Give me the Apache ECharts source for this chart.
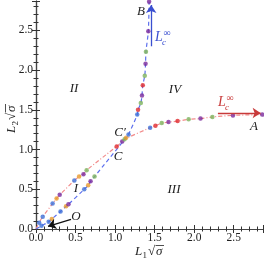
<!DOCTYPE html>
<html><head><meta charset="utf-8">
<script src="https://cdn.jsdelivr.net/npm/echarts@6/dist/echarts.min.js"></script>
<style>html,body{margin:0;padding:0;background:#fff}#c{width:264px;height:263px}</style>
</head><body><div id="c"></div>
<script>
// ---- data ----
const redX = [0.04,0.085,0.21,0.26,0.30,0.485,0.545,0.60,0.64,1.02,1.09,1.12,1.443,1.51,1.59,1.675,1.79,1.93,2.08,2.23,2.49,2.86];
const redY = [0.08,0.155,0.32,0.385,0.43,0.61,0.66,0.69,0.74,1.04,1.10,1.13,1.275,1.30,1.333,1.346,1.358,1.38,1.39,1.41,1.43,1.44];
const redGroup = [4,4,4,3,1,4,3,1,2,0,1,2,4,0,2,1,0,2,1,2,1,1];
const blueX = [0.07,0.16,0.20,0.31,0.38,0.41,0.61,0.66,0.69,0.74,1.14,1.17,1.28,1.29,1.325,1.34,1.35,1.375,1.385,1.39,1.42,1.43];
const blueY = [0.04,0.09,0.125,0.22,0.285,0.31,0.50,0.55,0.60,0.66,1.15,1.19,1.44,1.50,1.585,1.68,1.81,1.93,2.08,2.23,2.49,2.86];
const blueGroup = [4,4,3,4,3,1,4,3,1,2,3,4,4,0,2,1,0,2,1,2,1,1];
const origin = [0, 0];
const redArrow = [[2.30,1.46],[2.84,1.46]];
const blueArrow = [[1.456,2.30],[1.456,2.82]];
const oArrow = [[0.443,0.122],[0.152,0.034]];
const axisMax = 2.87;
const tickStep = 0.5;

// ---- styles ----
const groupColors = ['#e02a2e','#7a2b9c','#7db35c','#e99a2c','#3d6fd8'];
const SERIF = '"Liberation Serif", "DejaVu Serif", serif';

const chart = echarts.init(document.getElementById('c'), null, {renderer:'canvas'});

function linePts(xs, ys){ return [origin].concat(xs.map((x,i)=>[x, ys[i]])); }
function dotPts(xs, ys, gs){
  return xs.map((x,i)=>({value:[x, ys[i]], itemStyle:{color:groupColors[gs[i]]}}));
}
function baseAxis(pos, showLabel){
  return {
    type:'value', min:0, max:axisMax, interval:tickStep, position:pos,
    axisLine:{show:true, lineStyle:{color:'#444', width:1.2}},
    axisTick:{show:true, inside:true, length:4, lineStyle:{color:'#333', width:1}},
    minorTick:{show:true, splitNumber:5, length:2.5, lineStyle:{color:'#333', width:1}},
    splitLine:{show:false}, minorSplitLine:{show:false},
    axisLabel:{show:showLabel, showMaxLabel:false, color:'#222', fontFamily:SERIF, fontSize:11.5,
      formatter:v=>v.toFixed(1)}
  };
}
const xa1 = baseAxis('bottom', true); xa1.axisLabel.margin = 3;
const xa2 = baseAxis('top', false);
const ya1 = baseAxis('left', true); ya1.axisLabel.margin = 3;
const ya2 = baseAxis('right', false);

function txt(x, y, s, size, color, italic){
  return {type:'text', x:x, y:y, style:{text:s, fill:color||'#222',
    font:(italic===false?'':'italic ')+size+'px '+SERIF, align:'center', verticalAlign:'middle'}};
}
function lc(x, y, color){
  return {type:'group', x:x, y:y, children:[
    {type:'text', x:0, y:0, style:{text:'L', fill:color, font:'italic 14px '+SERIF, verticalAlign:'bottom'}},
    {type:'text', x:7, y:3, style:{text:'c', fill:color, font:'italic 9px '+SERIF, verticalAlign:'bottom'}},
    {type:'text', x:8.5, y:-6, style:{text:'∞', fill:color, font:'10px '+SERIF, verticalAlign:'bottom'}}
  ]};
}
function axName(x, y, sub, rot){
  return {type:'group', x:x, y:y, rotation:rot, children:[
    {type:'text', x:0, y:0, style:{text:'L', fill:'#222', font:'italic 13px '+SERIF, verticalAlign:'bottom'}},
    {type:'text', x:7.5, y:2.5, style:{text:sub, fill:'#222', font:'9px '+SERIF, verticalAlign:'bottom'}},
    {type:'text', x:13, y:0, style:{text:'√', fill:'#222', font:'13px '+SERIF, verticalAlign:'bottom'}},
    {type:'text', x:21, y:0, style:{text:'σ', fill:'#222', font:'italic 13px '+SERIF, verticalAlign:'bottom'}},
    {type:'line', shape:{x1:20.5, y1:-12.5, x2:29, y2:-12.5}, style:{stroke:'#222', lineWidth:0.8}}
  ]};
}
function arrow(pts, color){
  return [{coord:pts[0], lineStyle:{color:color}}, {coord:pts[1], lineStyle:{color:color}}];
}

chart.setOption({
  animation:false,
  grid:{left:36, top:1, width:227, height:228, containLabel:false},
  xAxis:[xa1, xa2],
  yAxis:[ya1, ya2],
  series:[
    {type:'line', data:linePts(redX, redY), showSymbol:false, smooth:0.3, silent:true,
      lineStyle:{color:'#f28a8a', width:1.2, type:[4,2,1,2]}, z:2},
    {type:'line', data:linePts(blueX, blueY), showSymbol:false, smooth:0.3, silent:true,
      lineStyle:{color:'#5d70ee', width:1.2, type:[4,3]}, z:2},
    {type:'scatter', data:dotPts(redX, redY, redGroup), symbolSize:4.5, silent:true, z:3},
    {type:'scatter', data:dotPts(blueX, blueY, blueGroup), symbolSize:4.5, silent:true, z:3},
    {type:'line', data:[], silent:true, z:4,
      markLine:{silent:true, symbol:['none','arrow'], symbolSize:8, label:{show:false},
        lineStyle:{type:'solid', width:1.3}, emphasis:{disabled:true},
        data:[arrow(redArrow,'#c83a3a'), arrow(blueArrow,'#3a4fd0'), arrow(oArrow,'#111')]}}
  ],
  graphic:[
    txt(141,12,'B',13), txt(254,127,'A',13), txt(175,90,'IV',13), txt(74,89,'II',13),
    txt(174,190,'III',13), txt(76,189,'I',13), txt(76,217,'O',13), txt(118,157,'C',13),
    txt(120,133,'C′',13),
    lc(155,44,'#3a4fd0'), lc(218,109,'#c83a3a'),
    axName(135,258,'1',0), axName(18,133,'2',Math.PI/2)
  ]
});
</script></body></html>
